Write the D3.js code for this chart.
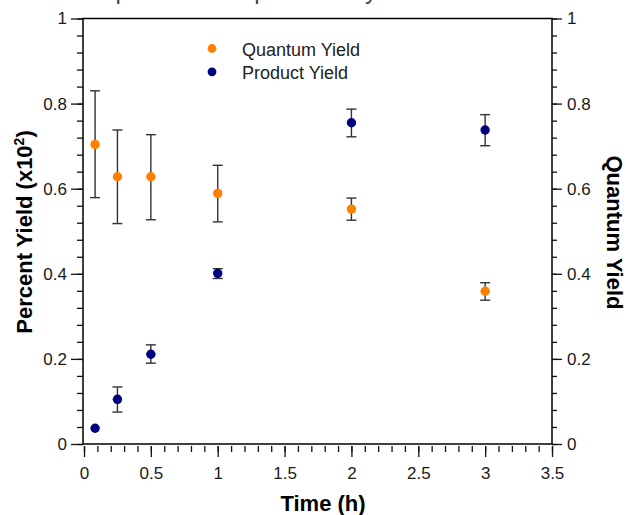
<!DOCTYPE html>
<html>
<head>
<meta charset="utf-8">
<script src="https://cdn.jsdelivr.net/npm/d3@7"></script>
<style>
  body { margin: 0; background: #fff; }
  svg { display: block; font-family: "Liberation Sans", Arial, Helvetica, sans-serif; }
  .axis path { display: none; }
  .axis line { stroke: #111; stroke-width: 1.3; }
  .axis text { fill: #1a1a1a; font-size: 17px; }
</style>
</head>
<body>
<svg id="chart" width="626" height="515"></svg>
<script>
// reaction time (h)
let times = [0.083, 0.25, 0.5, 1, 2, 3]

// quantum yield + error bar ends
let quantumYield = [0.704, 0.628, 0.628, 0.589, 0.552, 0.359]
let quantumLow = [0.579, 0.518, 0.527, 0.522, 0.526, 0.338]
let quantumHigh = [0.830, 0.738, 0.727, 0.655, 0.578, 0.379]

// product yield (x10^2 %) + error bar ends
let productYield = [0.037, 0.105, 0.211, 0.401, 0.755, 0.738]
let productLow = [null, 0.075, 0.190, 0.389, 0.722, 0.701]
let productHigh = [null, 0.134, 0.233, 0.412, 0.787, 0.774]

let xTicks = [0, 0.5, 1, 1.5, 2, 2.5, 3, 3.5]
let yTicks = [0, 0.2, 0.4, 0.6, 0.8, 1]

let plotLeft = 84, plotRight = 552, plotTop = 18.5, plotBottom = 444

let svg = d3.select("#chart")

let x = d3.scaleLinear().domain([0, 3.5]).range([plotLeft, plotRight])
let y = d3.scaleLinear().domain([0, 1]).range([plotBottom, plotTop])

// title, mostly cut off by the top edge like in the source image
svg.append("text")
    .attr("x", 14)
    .attr("y", -1)
    .attr("fill", "#444")
    .attr("font-size", "24px")
    .text("Reaction profile of the photocatalyst")

// minor ticks
let minorY = d3.range(0, 1.0001, 0.04)
let minorX = d3.range(0, 3.5001, 0.1)

svg.append("g").attr("class", "axis")
    .attr("transform", `translate(${plotLeft - 1},0)`)
    .call(d3.axisLeft(y).tickValues(minorY).tickSize(6).tickFormat(""))
svg.append("g").attr("class", "axis")
    .attr("transform", `translate(${plotRight},0)`)
    .call(d3.axisRight(y).tickValues(minorY).tickSize(5).tickFormat(""))
svg.append("g").attr("class", "axis")
    .attr("transform", `translate(0,${plotBottom + 2})`)
    .call(d3.axisBottom(x).tickValues(minorX).tickSize(6).tickFormat(""))

// major ticks
svg.append("g").attr("class", "axis")
    .attr("transform", `translate(${plotLeft - 1},0)`)
    .call(d3.axisLeft(y).tickValues(yTicks).tickSize(12).tickPadding(4).tickFormat(d3.format("")))
svg.append("g").attr("class", "axis")
    .attr("transform", `translate(${plotRight},0)`)
    .call(d3.axisRight(y).tickValues(yTicks).tickSize(10).tickPadding(5).tickFormat(d3.format("")))
svg.append("g").attr("class", "axis")
    .attr("transform", `translate(0,${plotBottom + 2})`)
    .call(d3.axisBottom(x).tickValues(xTicks).tickSize(11).tickPadding(10).tickFormat(d3.format("")))

// frame
svg.append("rect")
    .attr("x", plotLeft - 1)
    .attr("y", plotTop)
    .attr("width", plotRight - plotLeft + 1)
    .attr("height", plotBottom - plotTop)
    .attr("fill", "none")
    .attr("stroke", "#000")
    .attr("stroke-width", 1.5)

let drawSeries = (vals, lows, highs, color) => {
    let pts = times.map((t, i) => ({ t: t, v: vals[i], lo: lows[i], hi: highs[i] }))
    let bars = pts.filter((d) => d.lo !== null)
    let g = svg.append("g")
    g.selectAll(".stem").data(bars).enter().append("line")
        .attr("x1", (d) => x(d.t)).attr("x2", (d) => x(d.t))
        .attr("y1", (d) => y(d.lo)).attr("y2", (d) => y(d.hi))
        .attr("stroke", "#333").attr("stroke-width", 1.4)
    g.selectAll(".capLo").data(bars).enter().append("line")
        .attr("x1", (d) => x(d.t) - 5).attr("x2", (d) => x(d.t) + 5)
        .attr("y1", (d) => y(d.lo)).attr("y2", (d) => y(d.lo))
        .attr("stroke", "#333").attr("stroke-width", 1.4)
    g.selectAll(".capHi").data(bars).enter().append("line")
        .attr("x1", (d) => x(d.t) - 5).attr("x2", (d) => x(d.t) + 5)
        .attr("y1", (d) => y(d.hi)).attr("y2", (d) => y(d.hi))
        .attr("stroke", "#333").attr("stroke-width", 1.4)
    g.selectAll("circle").data(pts).enter().append("circle")
        .attr("cx", (d) => x(d.t))
        .attr("cy", (d) => y(d.v))
        .attr("r", 4.7)
        .attr("fill", color)
}

drawSeries(quantumYield, quantumLow, quantumHigh, "#ff8000")
drawSeries(productYield, productLow, productHigh, "#00007f")

// legend
let legend = [["Quantum Yield", "#ff8000"], ["Product Yield", "#00007f"]]
legend.forEach((item, i) => {
    svg.append("circle")
        .attr("cx", 212).attr("cy", 48.5 + i * 23.3)
        .attr("r", 4.4).attr("fill", item[1])
    svg.append("text")
        .attr("x", 242).attr("y", 55.5 + i * 23.3)
        .attr("font-size", "18px").attr("fill", "#222")
        .text(item[0])
})

// axis titles
svg.append("text")
    .attr("x", 323).attr("y", 511)
    .attr("text-anchor", "middle")
    .attr("font-size", "22px").attr("font-weight", "bold")
    .text("Time (h)")

let yt = svg.append("text")
    .attr("transform", "translate(31.5,232) rotate(-90)")
    .attr("text-anchor", "middle")
    .attr("font-size", "22px").attr("font-weight", "bold")
yt.append("tspan").text("Percent Yield (x10")
yt.append("tspan").attr("font-size", "14px").attr("dy", "-8").text("2")
yt.append("tspan").attr("dy", "8").text(")")

svg.append("text")
    .attr("transform", "translate(607,232.5) rotate(90)")
    .attr("text-anchor", "middle")
    .attr("font-size", "22px").attr("font-weight", "bold")
    .text("Quantum Yield")
</script>
</body>
</html>
